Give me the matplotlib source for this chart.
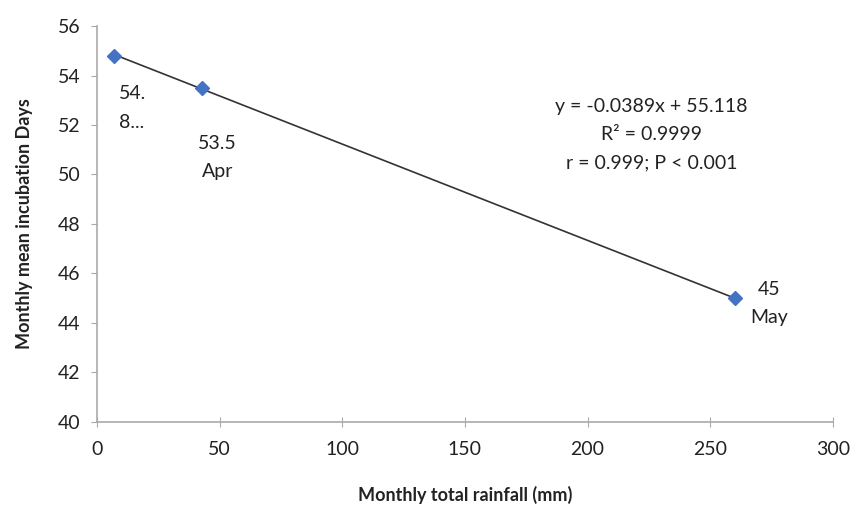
import matplotlib
matplotlib.use("Agg")
import matplotlib.pyplot as plt
import numpy as np

# Monthly rainfall vs. mean incubation days
rainfall = [7, 43, 260]
incubation = [54.8, 53.5, 45.0]
point_labels = ["54.\n8...", "53.5\nApr", "45\nMay"]
slope, intercept = -0.0389, 55.118
x_ticks = [0, 50, 100, 150, 200, 250, 300]
y_ticks = [40, 42, 44, 46, 48, 50, 52, 54, 56]

plt.rcParams["font.family"] = ["Lato", "DejaVu Sans"]

fig = plt.figure(figsize=(8.55, 5.07), dpi=100)
ax = fig.add_axes([0.1135, 0.1677, 0.8605, 0.781])

# Linear trendline over the data range
xt = np.array([min(rainfall), max(rainfall)])
ax.plot(xt, slope * xt + intercept, color="#333333", lw=1.2, zorder=2)
ax.plot(rainfall, incubation, linestyle="none", marker="D", ms=7,
        color="#4472C4", zorder=3)

lbl = dict(fontsize=14, color="#222222", linespacing=1.8)
# Data labels
ax.text(rainfall[0] + 2, incubation[0] - 1.2, point_labels[0], ha="left",
        va="top", **lbl)
ax.text(rainfall[1] + 6, incubation[1] - 1.9, point_labels[1], ha="center",
        va="top", **lbl)
ax.text(rainfall[2] + 14, incubation[2] + 0.7, point_labels[2], ha="center",
        va="top", **lbl)

# Regression equation
ax.text(226, 51.6, "y = -0.0389x + 55.118\nR² = 0.9999\nr = 0.999; P < 0.001",
        ha="center", va="center", **lbl)

ax.set_xlim(0, 300)
ax.set_ylim(40, 56)
ax.set_xticks(x_ticks)
ax.set_yticks(y_ticks)
ax.tick_params(labelsize=14, colors="#222222", length=4, color="#aaaaaa")
ax.tick_params(axis="x", direction="inout", length=7, pad=10)
ax.tick_params(axis="y", pad=8)
for s in ["top", "right"]:
    ax.spines[s].set_visible(False)
for s in ["left", "bottom"]:
    ax.spines[s].set_color("#aaaaaa")
    ax.spines[s].set_linewidth(1.2)

ax.set_xlabel("Monthly total rainfall (mm)", fontsize=13, fontweight="bold",
              color="#222222", labelpad=20)
ax.set_ylabel("Monthly mean incubation Days", fontsize=13, fontweight="bold",
              color="#222222", labelpad=18)

fig.savefig("out.png", dpi=100, facecolor="white")
